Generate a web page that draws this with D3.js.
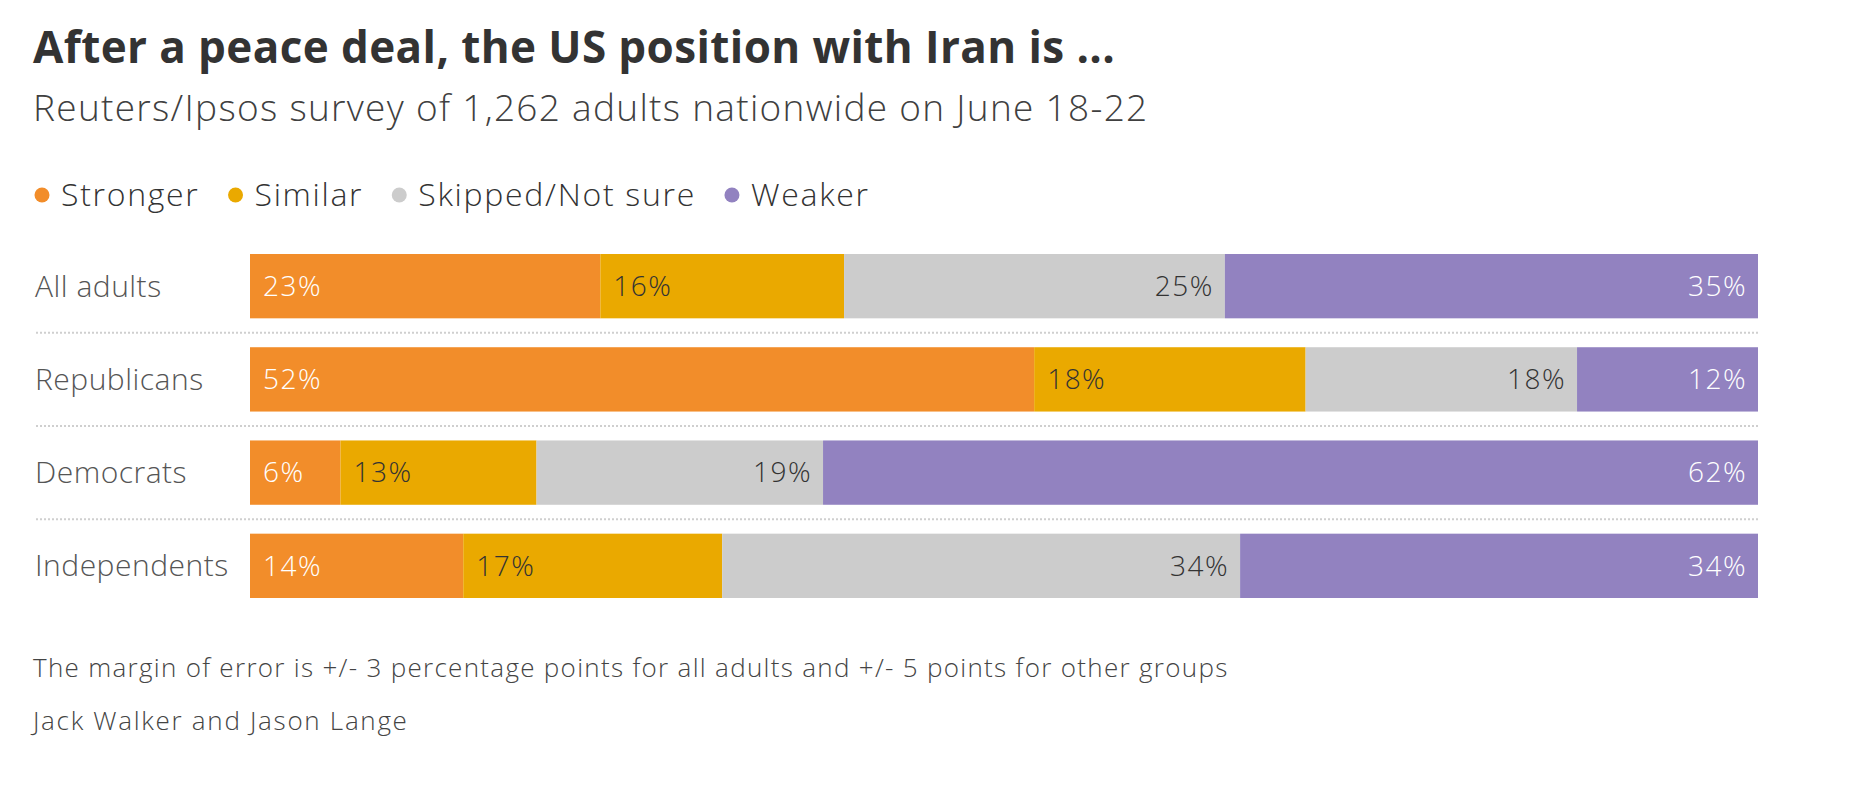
<!DOCTYPE html>
<html>
<head>
<meta charset="utf-8">
<script src="https://cdn.jsdelivr.net/npm/d3@7"></script>
<style>
  html, body { margin: 0; padding: 0; background: #fff; }
  svg { display: block; font-family: "Open Sans", Lato, sans-serif; }
</style>
</head>
<body>
<svg id="chart" width="1864" height="800"></svg>
<script>
// data
const groups = ["All adults", "Republicans", "Democrats", "Independents"];
const answers = ["Stronger", "Similar", "Skipped/Not sure", "Weaker"];
const stronger = [23, 52, 6, 14];
const similar = [16, 18, 13, 17];
const skipped = [25, 18, 19, 34];
const weaker = [35, 12, 62, 34];

const colors = ["#f28d2a", "#eaa900", "#cccccc", "#9282c0"];
const labelColors = ["#fff", "#333", "#333", "#fff"];

const svg = d3.select("#chart");

// build rows for the stack
const rows = groups.map((g, i) => ({
    group: g,
    "Stronger": stronger[i],
    "Similar": similar[i],
    "Skipped/Not sure": skipped[i],
    "Weaker": weaker[i]
}));

// each row fills the whole width (some rows add up to 99)
const series = d3.stack()
    .keys(answers)
    .offset(d3.stackOffsetExpand)(rows);

const x = d3.scaleLinear().domain([0, 1]).range([250, 1758]);
const y = d3.scaleBand().domain(groups).range([254, 598]).paddingInner(0.31).paddingOuter(0);
const color = d3.scaleOrdinal().domain(answers).range(colors);

// titles
svg.append("text")
    .attr("x", 33).attr("y", 63)
    .attr("font-size", 44).attr("font-weight", 700)
    .attr("letter-spacing", 0.4)
    .attr("fill", "#333")
    .text("After a peace deal, the US position with Iran is ...");

svg.append("text")
    .attr("x", 33).attr("y", 121)
    .attr("font-size", 37).attr("font-weight", 300)
    .attr("letter-spacing", 1.3)
    .attr("fill", "#404040")
    .text("Reuters/Ipsos survey of 1,262 adults nationwide on June 18-22");

// legend
const legend = svg.append("g").attr("transform", "translate(42,195)");
let lx = 0;
answers.forEach((a, i) => {
    const item = legend.append("g").attr("transform", `translate(${lx},0)`);
    item.append("circle").attr("r", 7.5).attr("fill", colors[i]);
    const t = item.append("text")
        .attr("x", 19).attr("dy", "0.35em")
        .attr("font-size", 32).attr("font-weight", 300)
        .attr("letter-spacing", 1.7)
        .attr("fill", "#333")
        .text(a);
    lx += 19 + t.node().getComputedTextLength() + 36;
});

// dotted separators between rows
const gap = y.step() - y.bandwidth();
svg.append("g")
    .selectAll("line")
    .data(groups.slice(0, -1))
    .join("line")
    .attr("x1", 36).attr("x2", x(1))
    .attr("y1", d => y(d) + y.bandwidth() + gap / 2)
    .attr("y2", d => y(d) + y.bandwidth() + gap / 2)
    .attr("stroke", "#cfcfcf")
    .attr("stroke-width", 2)
    .attr("stroke-dasharray", "2,2");

// row labels
svg.append("g")
    .selectAll("text")
    .data(groups)
    .join("text")
    .attr("x", 35)
    .attr("y", d => y(d) + y.bandwidth() / 2)
    .attr("dy", "0.35em")
    .attr("font-size", 30).attr("font-weight", 300)
    .attr("letter-spacing", 0.5)
    .attr("fill", "#555")
    .text(d => d);

// bars
const layer = svg.append("g")
    .selectAll("g")
    .data(series)
    .join("g")
    .attr("fill", d => color(d.key));

layer.selectAll("rect")
    .data(d => d)
    .join("rect")
    .attr("x", d => x(d[0]))
    .attr("y", d => y(d.data.group))
    .attr("width", d => x(d[1]) - x(d[0]))
    .attr("height", y.bandwidth());

// value labels: first two on the left of the segment, last two on the right
series.forEach((s, i) => {
    const leftSide = i < 2;
    svg.append("g")
        .selectAll("text")
        .data(s)
        .join("text")
        .attr("x", d => leftSide ? x(d[0]) + 13 : x(d[1]) - 11)
        .attr("y", d => y(d.data.group) + y.bandwidth() / 2)
        .attr("dy", "0.35em")
        .attr("text-anchor", leftSide ? "start" : "end")
        .attr("font-size", 28).attr("font-weight", 300)
        .attr("letter-spacing", 1.5)
        .attr("fill", labelColors[i])
        .text(d => d.data[s.key] + "%");
});

// footer
svg.append("text")
    .attr("x", 33).attr("y", 677)
    .attr("font-size", 26).attr("font-weight", 300)
    .attr("letter-spacing", 1.3)
    .attr("fill", "#444")
    .text("The margin of error is +/- 3 percentage points for all adults and +/- 5 points for other groups");

svg.append("text")
    .attr("x", 33).attr("y", 730)
    .attr("font-size", 26).attr("font-weight", 300)
    .attr("letter-spacing", 1.7)
    .attr("fill", "#444")
    .text("Jack Walker and Jason Lange");
</script>
</body>
</html>
